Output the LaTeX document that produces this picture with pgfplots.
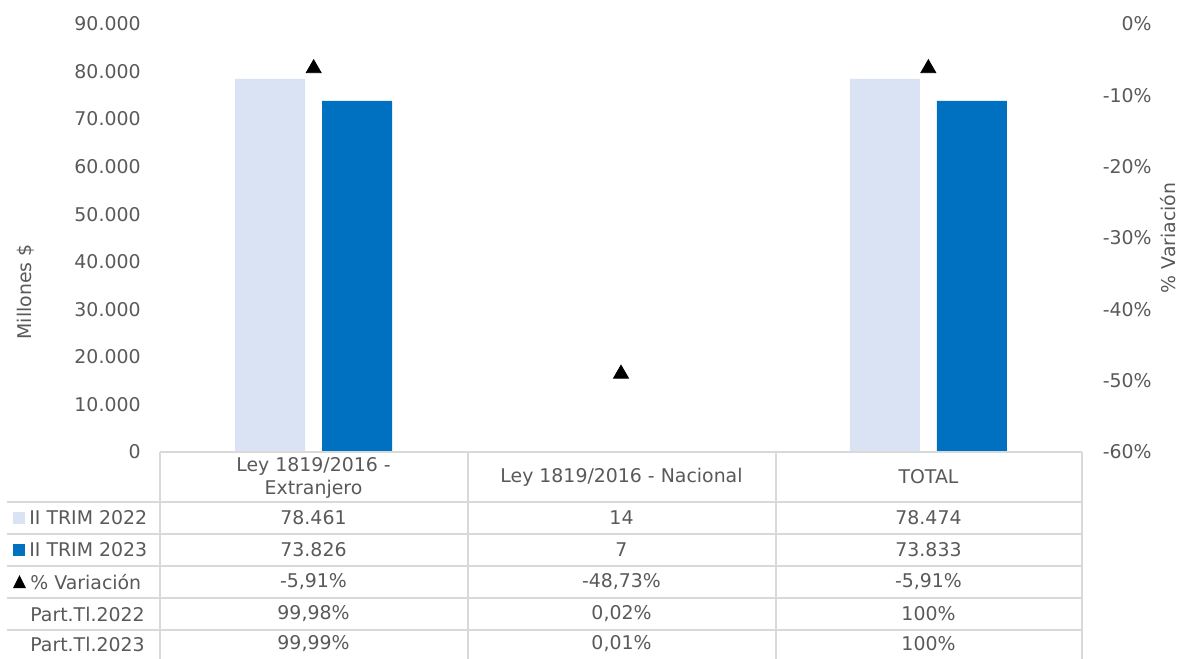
\documentclass[border=0pt]{standalone}
\usepackage{pgfplots}
\pgfplotsset{compat=1.18}
\usepackage{fontspec}
\setmainfont{DejaVu Sans}
\definecolor{txt}{HTML}{595959}
\definecolor{cA}{HTML}{DAE3F3}
\definecolor{cB}{HTML}{0070C0}
\definecolor{gridc}{HTML}{D9D9D9}
\begin{document}
\fontsize{9.45}{11.2}\selectfont
\begin{tikzpicture}
\path[use as bounding box] (0,0) rectangle (591pt,-329pt);
\pgfplotsset{
  base/.style={
    at={(80pt,-226pt)}, anchor=south west,
    width=461pt, height=214pt, scale only axis,
    xmin=-0.5, xmax=2.5, xtick=\empty,
    axis line style={draw=none}, major tick length=0pt,
    tick label style={text=txt},
    label style={text=txt},
    /pgf/number format/assume math mode=true,
    clip=false,
  }
}
\begin{axis}[base, ymin=0, ymax=90000, ytick={0,10000,...,90000}, scaled y ticks=false,
  /pgf/number format/1000 sep={.},
  yticklabel style={anchor=east, inner xsep=0pt, xshift=-9.5pt},
  ylabel={Millones \$},
  ylabel style={at={(axis description cs:-0.1453,0.374)}, anchor=center},
  ybar, bar width=35pt]
\addplot[fill=cA, draw=none, bar shift=-21.75pt] coordinates {(0,78461) (1,14) (2,78474)};
\addplot[fill=cB, draw=none, bar shift=21.75pt] coordinates {(0,73826) (1,7) (2,73833)};
\end{axis}
\begin{axis}[base, ymin=-60, ymax=0, ytick={-60,-50,...,0}, yticklabel pos=right,
  yticklabel={\pgfmathprintnumber{\tick}\%},
  yticklabel style={anchor=east, inner xsep=0pt, xshift=35pt},
  ylabel={\% Variación},
  ylabel style={at={(axis description cs:1.0933,0.5)}, anchor=center}]
\addplot[only marks, mark=triangle*, mark size=4.3pt, black,
  mark options={yshift=-1.1pt}] coordinates {(0,-5.91) (1,-48.73) (2,-5.91)};
\end{axis}
\begin{scope}[x=0.5pt, y=-0.5pt]
  \draw[gridc, line width=1pt] (160,452) -- (1082,452);
  \foreach \y in {502,534,566,598,630} \draw[gridc, line width=1pt] (7,\y) -- (1082,\y);
  \foreach \x in {160,467.5,775.5,1082} \draw[gridc, line width=1pt] (\x,452) -- (\x,660);
  % header
  \node[text=txt, align=center, inner sep=0pt] at (313.5,478) {Ley 1819/2016 -\\Extranjero};
  \node[text=txt, inner sep=0pt] at (621.5,477) {Ley 1819/2016 - Nacional};
  \node[text=txt, inner sep=0pt] at (928.5,477) {TOTAL};
  % legend column
  \fill[cA] (13,512) rectangle (25,524);
  \node[text=txt, anchor=west, inner sep=0pt] at (29,518) {II TRIM 2022};
  \fill[cB] (13,544) rectangle (25,556);
  \node[text=txt, anchor=west, inner sep=0pt] at (29,550) {II TRIM 2023};
  \fill[black] (13,588) -- (26,588) -- (19.5,575) -- cycle;
  \node[text=txt, anchor=west, inner sep=0pt] at (30,582) {\% Variación};
  \node[text=txt, anchor=west, inner sep=0pt] at (30,614) {Part.Tl.2022};
  \node[text=txt, anchor=west, inner sep=0pt] at (30,644) {Part.Tl.2023};
  % values
  \node[text=txt] at (313.5,518) {78.461};
  \node[text=txt] at (621.5,518) {14};
  \node[text=txt] at (928.5,518) {78.474};
  \node[text=txt] at (313.5,550) {73.826};
  \node[text=txt] at (621.5,550) {7};
  \node[text=txt] at (928.5,550) {73.833};
  \node[text=txt] at (313.5,582) {-5,91\%};
  \node[text=txt] at (621.5,582) {-48,73\%};
  \node[text=txt] at (928.5,582) {-5,91\%};
  \node[text=txt] at (313.5,614) {99,98\%};
  \node[text=txt] at (621.5,614) {0,02\%};
  \node[text=txt] at (928.5,614) {100\%};
  \node[text=txt] at (313.5,644) {99,99\%};
  \node[text=txt] at (621.5,644) {0,01\%};
  \node[text=txt] at (928.5,644) {100\%};
\end{scope}
\end{tikzpicture}
\end{document}
